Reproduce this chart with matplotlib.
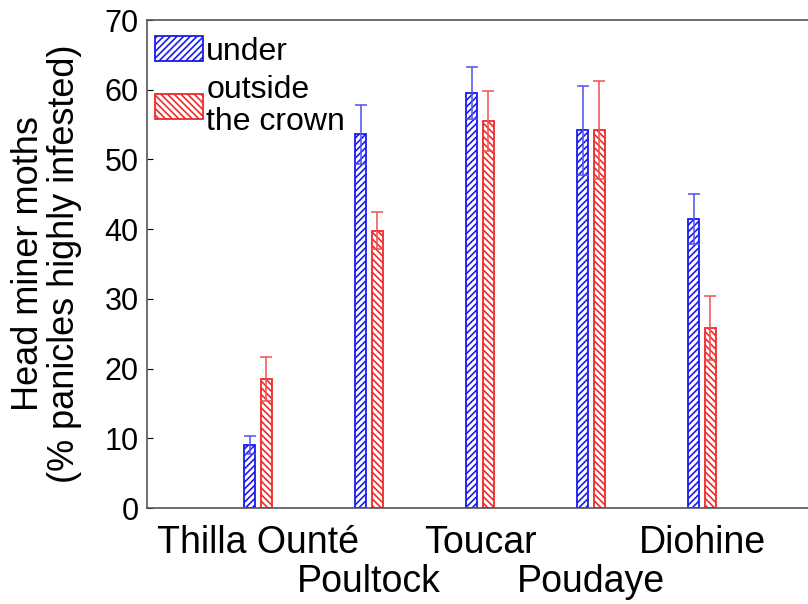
import numpy as np
import matplotlib
matplotlib.use("Agg")
import matplotlib.pyplot as plt

plt.rcParams['font.family'] = ['Liberation Sans', 'DejaVu Sans']
plt.rcParams['hatch.linewidth'] = 1.2

sites = ['Thilla Ounté', 'Poultock', 'Toucar', 'Poudaye', 'Diohine']
under_mean = [9.0, 53.6, 59.5, 54.2, 41.5]
under_err = [1.3, 4.2, 3.7, 6.4, 3.6]
outside_mean = [18.5, 39.8, 55.5, 54.2, 25.8]
outside_err = [3.2, 2.7, 4.3, 7.0, 4.6]

x = np.arange(1, len(sites) + 1)
w = 0.1

fig = plt.figure(figsize=(8.08, 6.04), dpi=100)
ax = fig.add_axes([147 / 808, 96 / 604, 666 / 808, 488 / 604])

ax.bar(x - 0.075, under_mean, w, color='white', edgecolor='#1a1aee',
       hatch='/////', linewidth=1.3, label='under', zorder=2)
ax.bar(x + 0.075, outside_mean, w, color='white', edgecolor='#ee2a2a',
       hatch='\\\\\\\\\\', linewidth=1.3, label='outside\nthe crown', zorder=2)
ax.errorbar(x - 0.075, under_mean, yerr=under_err, fmt='none',
            ecolor='#5050f0', elinewidth=1.1, capsize=4.3, capthick=1.1, zorder=3)
ax.errorbar(x + 0.075, outside_mean, yerr=outside_err, fmt='none',
            ecolor='#f05050', elinewidth=1.1, capsize=4.3, capthick=1.1, zorder=3)

ax.set_xlim(0, 6)
ax.set_ylim(0, 70)
ax.set_yticks(range(0, 71, 10))
ax.set_xticks(x)
ax.set_xticklabels(sites, fontsize=27)
ax.tick_params(axis='x', length=0)
# alternate labels on two rows
for i, tick in enumerate(ax.xaxis.get_major_ticks()):
    tick.set_pad(12 if i % 2 == 0 else 40)
ax.tick_params(axis='y', direction='in', length=4, labelsize=22, pad=6)
for s in ax.spines.values():
    s.set_color('#555555')
    s.set_linewidth(1.2)

ax.set_ylabel('Head miner moths\n(% panicles highly infested)', fontsize=26,
              linespacing=1.05, labelpad=16)

leg = ax.legend(loc='upper left', bbox_to_anchor=(0.005, 0.977), fontsize=23,
                frameon=False, handlelength=1.5, handleheight=0.85,
                handletextpad=0.1, labelspacing=0.25, borderaxespad=0,
                borderpad=0.15)
for t in leg.get_texts():
    t.set_linespacing(1.1)

fig.savefig('out.png', dpi=100)
